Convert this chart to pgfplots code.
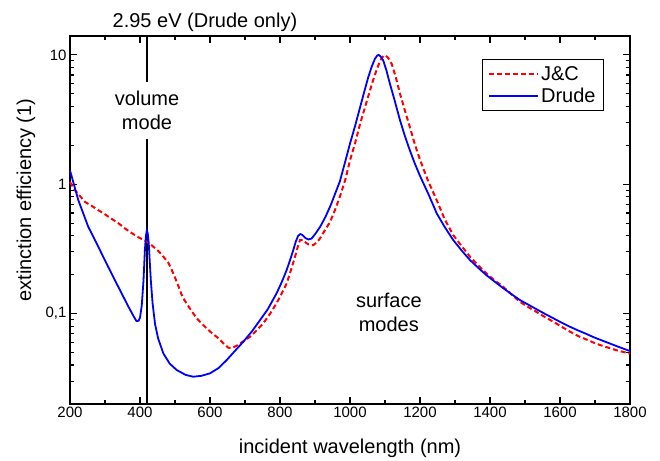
\documentclass[border=0pt]{standalone}
\usepackage{fontspec}
\setmainfont{Liberation Sans}
\usepackage{pgfplots}
\pgfplotsset{compat=1.18}

\newcommand{\lblfont}{\fontsize{20}{24}\selectfont}
\newcommand{\tckfont}{\fontsize{15}{18}\selectfont}

\begin{document}
\begin{tikzpicture}
\begin{axis}[
    width=560pt, height=368pt, scale only axis,
    xmin=200, xmax=1800,
    ymode=log, ymin=0.02, ymax=14,
    xtick={200,400,...,1800},
    minor xtick={300,500,...,1700},
    xticklabel style={/pgf/number format/1000 sep={}},
    ytick={0.1,1,10},
    yticklabels={{0,1},1,10},
    minor ytick={0.02,0.03,0.04,0.05,0.06,0.07,0.08,0.09,
                 0.2,0.3,0.4,0.5,0.6,0.7,0.8,0.9,
                 2,3,4,5,6,7,8,9},
    tick align=inside,
    major tick length=7pt, minor tick length=4pt,
    every tick/.style={black, line width=1.2pt},
    axis line style={line width=1.6pt},
    tick label style={font=\tckfont, /pgf/number format/assume math mode=true},
    clip=false,
    xlabel={incident wavelength (nm)},
    ylabel={extinction efficiency (1)},
    label style={font=\lblfont},
    xlabel style={at={(axis description cs:0.5,-0.12)}, anchor=center},
    ylabel style={at={(axis description cs:-0.0786,0.554)}, anchor=center},
    legend style={at={(axis description cs:0.9536,0.9375)}, anchor=north east,
        font=\lblfont, draw=black, line width=0.8pt, inner xsep=6pt, inner ysep=5pt,
        cells={anchor=west}, row sep=2pt},
    legend image code/.code={\draw[#1] (0pt,0pt) -- (49pt,0pt);},
]

\addplot[black, line width=2.6pt, forget plot] coordinates {(420,0.02) (420,14)};

% J&C (red dashed)
\addplot[red, line width=2pt, dash pattern=on 5pt off 3pt] coordinates {
(200,1.04)(214,0.90)(243,0.73)(262,0.68)(281,0.63)(300,0.585)(319,0.54)
(338,0.50)(357,0.455)(376,0.42)(395,0.39)(419,0.36)(433,0.338)(443,0.32)
(455,0.30)(467,0.275)(480,0.25)(490,0.22)(500,0.19)(509,0.165)(518,0.142)
(524,0.131)(533,0.12)(547,0.105)(562,0.092)(576,0.084)(590,0.077)(607,0.070)
(624,0.0645)(638,0.059)(652,0.0545)(662,0.0540)(676,0.0564)(695,0.061)
(714,0.066)(733,0.074)(752,0.084)(771,0.099)(790,0.12)(805,0.143)(819,0.171)
(832,0.22)(843,0.275)(851,0.33)(857,0.37)(866,0.37)(876,0.35)(885,0.338)
(895,0.338)(905,0.355)(914,0.38)(928,0.44)(943,0.51)(957,0.63)(971,0.80)
(986,1.07)(1000,1.53)(1015,2.1)(1029,2.94)(1043,3.95)(1057,5.3)(1070,6.9)
(1081,8.3)(1090,9.4)(1097,9.9)(1102,9.9)(1110,9.4)(1119,8.55)(1131,6.7)
(1143,5.0)(1157,3.7)(1171,2.77)(1185,2.05)(1200,1.55)(1222,1.08)(1248,0.75)
(1270,0.54)(1295,0.404)(1320,0.33)(1343,0.275)(1367,0.235)(1390,0.204)
(1414,0.18)(1438,0.161)(1462,0.14)(1486,0.123)(1510,0.112)(1533,0.103)
(1557,0.094)(1581,0.0865)(1605,0.079)(1629,0.0724)(1652,0.067)(1676,0.063)
(1700,0.059)(1724,0.056)(1762,0.052)(1800,0.049)
};

% Drude (blue solid)
\addplot[blue, line width=1.8pt] coordinates {
(200,1.28)(224,0.75)(252,0.47)(281,0.328)(309,0.23)(338,0.161)(367,0.113)
(382,0.095)(390,0.0875)(396,0.088)(400,0.093)(405,0.115)(410,0.18)(414,0.31)
(417,0.40)(419.5,0.44)(422,0.42)(425,0.35)(428,0.25)(431,0.18)(436,0.12)
(443,0.083)(452,0.064)(467,0.049)(485,0.041)(505,0.0366)(530,0.0336)
(552,0.0325)(575,0.0330)(600,0.0345)(625,0.038)(648,0.0438)(670,0.051)
(695,0.0605)(720,0.073)(743,0.089)(765,0.108)(790,0.143)(805,0.175)
(819,0.217)(830,0.265)(838,0.31)(845,0.36)(852,0.40)(858,0.412)(864,0.405)
(872,0.385)(881,0.374)(890,0.38)(900,0.41)(915,0.47)(930,0.56)(945,0.69)
(960,0.88)(971,1.05)(985,1.45)(1000,2.06)(1015,2.85)(1029,3.95)(1040,5.1)
(1052,6.7)(1062,8.1)(1071,9.3)(1078,9.9)(1082,10.0)(1088,9.7)(1095,9.06)
(1104,7.6)(1114,6.0)(1128,4.4)(1143,3.12)(1157,2.35)(1171,1.83)(1185,1.45)
(1200,1.16)(1224,0.84)(1248,0.594)(1270,0.47)(1295,0.37)(1320,0.305)
(1343,0.259)(1367,0.225)(1390,0.198)(1414,0.176)(1438,0.157)(1462,0.141)
(1486,0.127)(1510,0.117)(1533,0.108)(1557,0.0995)(1581,0.092)(1605,0.085)
(1629,0.079)(1652,0.074)(1676,0.0695)(1700,0.065)(1724,0.0614)(1762,0.056)
(1800,0.0513)
};

\legend{J\&C, Drude}

\node[fill=white, inner xsep=2pt, inner ysep=9pt, align=center, font=\lblfont]
    at (axis cs:420,3.73) {volume\\mode};
\node[align=center, font=\lblfont] at (axis cs:1111,0.103) {surface\\modes};
\node[font=\lblfont] at (rel axis cs:0.241,1.038) {2.95 eV (Drude only)};

\coordinate (BL) at (rel axis cs:-0.125,-0.1549);
\coordinate (TR) at (rel axis cs:1.0536,1.0978);
\end{axis}
\pgfresetboundingbox
\path (BL) rectangle (TR);
\end{tikzpicture}
\end{document}
